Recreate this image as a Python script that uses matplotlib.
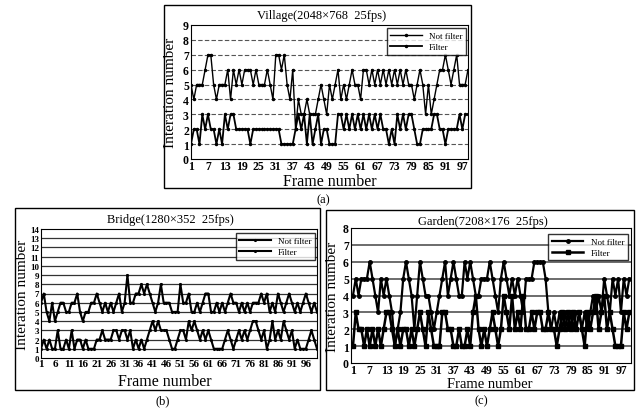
import matplotlib
matplotlib.use("Agg")
import matplotlib.pyplot as plt
from matplotlib.patches import Rectangle
import numpy as np

plt.rcParams['font.family'] = ['Liberation Serif', 'DejaVu Serif']

# ---------------- data ----------------
a_not = [5,4,5,5,5,6,7,7,5,4,
         5,5,5,6,4,6,5,6,5,6,
         6,6,5,6,5,5,5,6,5,4,
         7,7,6,7,5,4,6,2,4,3,
         3,4,3,3,3,4,5,4,3,5,
         4,5,6,4,5,4,5,6,5,5,
         4,6,6,5,6,5,6,5,6,5,
         6,5,6,5,6,5,6,5,5,4,
         5,6,5,3,5,3,4,5,6,6,
         7,6,5,6,7,5,5,5,6]
a_fil = [1,2,2,1,3,2,3,2,2,1,
         2,1,3,2,3,3,2,2,2,2,
         2,1,2,2,2,2,2,2,2,2,
         2,2,1,1,1,1,1,2,3,2,
         3,1,3,1,2,3,1,2,2,1,
         1,1,3,3,2,3,2,3,2,3,
         2,3,2,3,2,3,2,3,2,2,
         1,2,1,3,2,3,2,3,3,2,
         1,1,2,2,2,2,3,3,2,2,
         1,2,2,2,2,3,2,3,3]

b_not = [6,7,5,4,6,4,5,6,6,5,
         5,6,6,7,5,4,5,5,6,6,
         7,6,5,6,5,6,5,6,7,5,
         6,9,6,6,7,7,8,7,8,7,
         6,5,6,8,6,6,6,5,5,5,
         8,6,6,7,5,5,6,5,6,7,
         7,5,5,6,5,6,5,6,7,6,
         6,5,6,5,6,5,6,6,6,7,
         6,7,5,6,5,7,6,5,6,7,
         6,5,6,5,6,7,6,5,6,5]
b_fil = [1,2,1,2,1,1,3,1,1,2,
         1,3,1,2,2,1,2,1,1,1,
         2,2,3,2,2,2,3,3,2,3,
         3,2,3,1,2,1,2,1,2,3,
         4,3,4,3,3,3,2,1,1,2,
         3,3,2,4,3,4,3,2,3,2,
         3,2,1,1,1,1,2,3,2,1,
         2,3,2,3,2,3,4,4,3,2,
         3,1,2,4,2,3,2,4,3,2,
         3,1,2,1,1,1,2,3,2,1]

c_not = [4,5,4,5,5,5,6,5,4,3,
         5,4,5,4,3,1,2,3,5,6,
         5,4,2,4,6,5,4,4,3,2,
         3,4,5,6,4,5,6,5,4,4,
         6,5,6,5,4,4,5,5,5,6,
         5,4,3,5,6,5,4,5,4,5,
         4,3,5,5,5,6,6,6,6,5,
         3,2,3,2,3,2,3,2,3,2,
         3,3,2,3,2,3,4,3,4,3,
         5,4,3,5,4,5,3,5,4,5]
c_fil = [1,3,2,2,1,2,1,2,1,2,
         1,2,3,3,2,1,2,1,2,2,
         1,2,1,2,3,2,1,3,2,1,
         1,1,3,3,2,2,1,1,2,1,
         1,2,1,3,4,2,1,2,1,2,
         3,2,1,2,4,3,2,4,2,3,
         2,4,2,2,3,2,3,3,2,2,
         3,2,2,1,2,3,2,3,2,3,
         2,3,2,1,3,2,3,4,2,3,
         4,2,3,2,1,1,1,3,2,3]

titles = ["Village(2048\u00d7768  25fps)", "Bridge(1280\u00d7352  25fps)", "Garden(7208\u00d7176  25fps)"]
panel_tags = ["(a)", "(b)", "(c)"]
legend_labels = ["Not filter", "Filter"]
a_xticks = list(range(1, 98, 6))
b_xticks = list(range(1, 97, 5))
c_xticks = list(range(1, 98, 6))

W, H = 639, 414
fig = plt.figure(figsize=(W/100, H/100), dpi=100)

def rect(l, t, r, b):
    return [l/W, 1 - b/H, (r-l)/W, (b-t)/H]

def fx(x):
    return x/W

def fy(y):
    return 1 - y/H

def outer_box(l, t, r, b):
    fig.patches.append(Rectangle((l/W, 1-b/H), (r-l)/W, (b-t)/H, transform=fig.transFigure,
                                 fill=False, edgecolor='black', lw=1.0))

def setup(ax, ymax, xticks, xlim, gridstyle, ysize=8.5, xsize=8.5):
    ax.set_xlim(*xlim)
    ax.set_ylim(0, ymax)
    ax.set_yticks(range(0, ymax+1))
    ax.set_xticks(xticks)
    ax.tick_params(axis='x', length=0, labelsize=xsize, pad=1.0)
    ax.tick_params(axis='y', length=0, labelsize=ysize, pad=1.5)
    for lab in ax.get_xticklabels() + ax.get_yticklabels():
        lab.set_fontweight('bold')
    for y in range(1, ymax):
        ax.axhline(y, **gridstyle, zorder=1)
    for s in ax.spines.values():
        s.set_linewidth(0.8)

def add_legend(ax, anchor):
    ax.legend(loc='upper right', bbox_to_anchor=anchor, fontsize=6.5, frameon=True,
              fancybox=False, edgecolor='black', borderaxespad=0.2, handlelength=3.5,
              labelspacing=0.3, borderpad=0.4)

# ---------- panel (a) ----------
outer_box(164, 6, 471, 189)
axa = fig.add_axes(rect(191, 26, 468, 160))
fa = np.arange(1, len(a_not)+1)
setup(axa, 9, a_xticks, (1, len(a_not)), dict(color='#555555', lw=0.8, ls=(0, (4, 2))))
axa.plot(fa, a_not, color='black', lw=1.0, marker='.', ms=3, label=legend_labels[0], zorder=3)
axa.plot(fa, a_fil, color='black', lw=1.3, marker='.', ms=3, label=legend_labels[1], zorder=3)
add_legend(axa, (1.0, 0.99))
fig.text(fx(322), fy(16), titles[0], ha='center', va='center', fontsize=9)
fig.text(fx(171), fy(93), "Interation number", rotation=90, ha='center', va='center', fontsize=11)
fig.text(fx(330), fy(182), "Frame number", ha='center', va='center', fontsize=11.5)
fig.text(fx(323), fy(200), panel_tags[0], ha='center', va='center', fontsize=9)

# ---------- panel (b) ----------
outer_box(15, 209, 320, 391)
axb = fig.add_axes(rect(41, 230, 317, 359))
fb = np.arange(1, len(b_not)+1)
setup(axb, 14, b_xticks, (1, len(b_not)), dict(color='#333333', lw=0.9, ls='-'), ysize=6.5, xsize=8)
axb.plot(fb, b_not, color='black', lw=1.5, marker='.', ms=2.5, label=legend_labels[0], zorder=3)
axb.plot(fb, b_fil, color='black', lw=1.5, marker='.', ms=2.5, label=legend_labels[1], zorder=3)
add_legend(axb, (1.0, 0.98))
fig.text(fx(170), fy(220), titles[1], ha='center', va='center', fontsize=9)
fig.text(fx(23), fy(295), "Interation number", rotation=90, ha='center', va='center', fontsize=11)
fig.text(fx(165), fy(382), "Frame number", ha='center', va='center', fontsize=11.5)
fig.text(fx(163), fy(401), panel_tags[1], ha='center', va='center', fontsize=9)

# ---------- panel (c) ----------
outer_box(326, 211, 634, 391)
axc = fig.add_axes(rect(351, 229, 631, 364))
fc = np.arange(1, len(c_not)+1)
setup(axc, 8, c_xticks, (0.3, len(c_not)+0.6), dict(color='#444444', lw=1.1, ls='-'))
axc.plot(fc, c_not, color='black', lw=1.6, marker='o', ms=2.5, label=legend_labels[0], zorder=3)
axc.plot(fc, c_fil, color='black', lw=1.8, marker='s', ms=3, label=legend_labels[1], zorder=3)
add_legend(axc, (0.995, 0.97))
fig.text(fx(483), fy(222), titles[2], ha='center', va='center', fontsize=9)
fig.text(fx(333), fy(297), "Interation number", rotation=90, ha='center', va='center', fontsize=11)
fig.text(fx(490), fy(384.5), "Frame number", ha='center', va='center', fontsize=10.5)
fig.text(fx(481), fy(401), panel_tags[2], ha='center', va='center', fontsize=9)

fig.savefig("out.png", dpi=100)
